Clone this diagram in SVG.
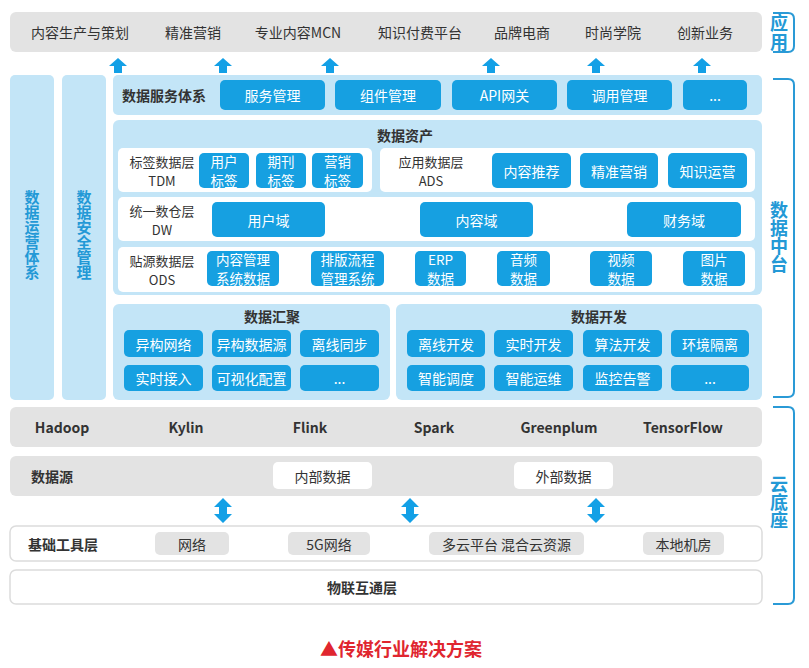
<svg xmlns="http://www.w3.org/2000/svg" width="809" height="668" viewBox="0 0 809 668">
<defs>
<style>
.gray{fill:#e3e3e3}
.lb{fill:#c3e5f7}
.btn{fill:#16a0e1}
.wr{fill:#ffffff}
.wb{fill:#ffffff;stroke:#dcdcdc;stroke-width:1.5}
.t{font-family:"Noto Sans CJK SC","Noto Sans",sans-serif;font-size:14px;text-anchor:middle;dominant-baseline:central}
.w{fill:#ffffff}
.d{fill:#333333}
.b{font-weight:bold}
.s13{font-size:13px}
.s135{font-size:13.5px}
.blue{fill:#2399d6;font-weight:bold}
.vert{writing-mode:vertical-rl;text-orientation:upright}
.arr{fill:#13a0e6}
.brk{fill:none;stroke:#2a9ad6;stroke-width:2}
</style>
</defs>

<!-- Application layer -->
<g id="app">
<rect class="gray" x="10" y="12" width="752" height="40" rx="6"/>
<text class="t d" x="80" y="32">内容生产与策划</text>
<text class="t d" x="193" y="32">精准营销</text>
<text class="t d" x="298" y="32">专业内容MCN</text>
<text class="t d" x="420" y="32">知识付费平台</text>
<text class="t d" x="522" y="32">品牌电商</text>
<text class="t d" x="613" y="32">时尚学院</text>
<text class="t d" x="705" y="32">创新业务</text>
</g>

<g id="connectors">
<g class="arr">
<path d="M118,58 L127,66 L122,66 L122,73 L114,73 L114,66 L109,66 Z"/>
<path d="M223,58 L232,66 L227,66 L227,73 L219,73 L219,66 L214,66 Z"/>
<path d="M330,58 L339,66 L334,66 L334,73 L326,73 L326,66 L321,66 Z"/>
<path d="M491,58 L500,66 L495,66 L495,73 L487,73 L487,66 L482,66 Z"/>
<path d="M596,58 L605,66 L600,66 L600,73 L592,73 L592,66 L587,66 Z"/>
<path d="M702,58 L711,66 L706,66 L706,73 L698,73 L698,66 L693,66 Z"/>
<path d="M223,498 L232,507 L227,507 L227,514 L232,514 L223,523 L214,514 L219,514 L219,507 L214,507 Z"/>
<path d="M410,498 L419,507 L414,507 L414,514 L419,514 L410,523 L401,514 L406,514 L406,507 L401,507 Z"/>
<path d="M596,498 L605,507 L600,507 L600,514 L605,514 L596,523 L587,514 L592,514 L592,507 L587,507 Z"/>
</g>
</g>

<!-- Left columns -->
<g id="ops">
<rect class="lb" x="10" y="75" width="44" height="325" rx="5"/>
<text class="t blue vert" x="32" y="235" style="font-size:15px">数据运营体系</text>
</g>
<g id="security">
<rect class="lb" x="62" y="75" width="44" height="325" rx="5"/>
<text class="t blue vert" x="84" y="235" style="font-size:15px">数据安全管理</text>
</g>

<!-- Data service -->
<g id="service">
<rect class="lb" x="113" y="75" width="649" height="40" rx="5"/>
<text class="t d b" x="164" y="95">数据服务体系</text>
<rect class="btn" x="220" y="80" width="105" height="30" rx="5"/>
<text class="t w" x="272.5" y="95">服务管理</text>
<rect class="btn" x="335" y="80" width="106" height="30" rx="5"/>
<text class="t w" x="388" y="95">组件管理</text>
<rect class="btn" x="452" y="80" width="105" height="30" rx="5"/>
<text class="t w" x="504.5" y="95">API网关</text>
<rect class="btn" x="567" y="80" width="105" height="30" rx="5"/>
<text class="t w" x="619.5" y="95">调用管理</text>
<rect class="btn" x="683" y="80" width="64" height="30" rx="5"/>
<text class="t w" x="715" y="95">...</text>
</g>

<!-- Data assets -->
<g id="assets">
<rect class="lb" x="113" y="120" width="649" height="175" rx="6"/>
<text class="t d b" x="405" y="135">数据资产</text>
</g>
<g id="tdm">
<rect class="wr" x="118" y="148" width="254" height="44" rx="5"/>
<text class="t d s13" x="162" y="161">标签数据层</text>
<text class="t d s13" x="162" y="180">TDM</text>
<rect class="btn" x="199" y="153" width="50" height="35" rx="5"/>
<text class="t w s135"><tspan x="224" y="160.7">用户</tspan><tspan x="224" y="180.3">标签</tspan></text>
<rect class="btn" x="256" y="153" width="50" height="35" rx="5"/>
<text class="t w s135"><tspan x="281" y="160.7">期刊</tspan><tspan x="281" y="180.3">标签</tspan></text>
<rect class="btn" x="312" y="153" width="51" height="35" rx="5"/>
<text class="t w s135"><tspan x="337.5" y="160.7">营销</tspan><tspan x="337.5" y="180.3">标签</tspan></text>
</g>
<g id="ads">
<rect class="wr" x="380" y="148" width="375" height="44" rx="5"/>
<text class="t d s13" x="431" y="161">应用数据层</text>
<text class="t d s13" x="431" y="180">ADS</text>
<rect class="btn" x="492" y="153" width="79" height="35" rx="5"/>
<text class="t w" x="531.5" y="170.5">内容推荐</text>
<rect class="btn" x="580" y="153" width="78" height="35" rx="5"/>
<text class="t w" x="619" y="170.5">精准营销</text>
<rect class="btn" x="668" y="153" width="79" height="35" rx="5"/>
<text class="t w" x="707.5" y="170.5">知识运营</text>
</g>
<g id="dw">
<rect class="wr" x="118" y="197" width="637" height="44" rx="5"/>
<text class="t d s13" x="162" y="210">统一数仓层</text>
<text class="t d s13" x="162" y="229">DW</text>
<rect class="btn" x="212" y="202" width="113" height="35" rx="5"/>
<text class="t w" x="268.5" y="219.5">用户域</text>
<rect class="btn" x="420" y="202" width="113" height="35" rx="5"/>
<text class="t w" x="476.5" y="219.5">内容域</text>
<rect class="btn" x="627" y="202" width="114" height="35" rx="5"/>
<text class="t w" x="684" y="219.5">财务域</text>
</g>
<g id="ods">
<rect class="wr" x="118" y="247" width="637" height="45" rx="5"/>
<text class="t d s13" x="162" y="260">贴源数据层</text>
<text class="t d s13" x="162" y="279">ODS</text>
<rect class="btn" x="207" y="251" width="72" height="35" rx="5"/>
<text class="t w s135"><tspan x="243" y="258.7">内容管理</tspan><tspan x="243" y="278.3">系统数据</tspan></text>
<rect class="btn" x="311" y="251" width="73" height="35" rx="5"/>
<text class="t w s135"><tspan x="347.5" y="258.7">排版流程</tspan><tspan x="347.5" y="278.3">管理系统</tspan></text>
<rect class="btn" x="415" y="251" width="51" height="35" rx="5"/>
<text class="t w s135"><tspan x="440.5" y="258.7">ERP</tspan><tspan x="440.5" y="278.3">数据</tspan></text>
<rect class="btn" x="497" y="251" width="53" height="35" rx="5"/>
<text class="t w s135"><tspan x="523.5" y="258.7">音频</tspan><tspan x="523.5" y="278.3">数据</tspan></text>
<rect class="btn" x="590" y="251" width="62" height="35" rx="5"/>
<text class="t w s135"><tspan x="621" y="258.7">视频</tspan><tspan x="621" y="278.3">数据</tspan></text>
<rect class="btn" x="683" y="251" width="62" height="35" rx="5"/>
<text class="t w s135"><tspan x="714" y="258.7">图片</tspan><tspan x="714" y="278.3">数据</tspan></text>
</g>

<!-- Data aggregation -->
<g id="aggregation">
<rect class="lb" x="113" y="304" width="277" height="96" rx="6"/>
<text class="t d b" x="272" y="316">数据汇聚</text>
<rect class="btn" x="124" y="330" width="79" height="27" rx="5"/>
<text class="t w" x="163.5" y="343.5">异构网络</text>
<rect class="btn" x="212" y="330" width="79" height="27" rx="5"/>
<text class="t w" x="251.5" y="343.5">异构数据源</text>
<rect class="btn" x="300" y="330" width="79" height="27" rx="5"/>
<text class="t w" x="339.5" y="343.5">离线同步</text>
<rect class="btn" x="124" y="365" width="79" height="26" rx="5"/>
<text class="t w" x="163.5" y="378">实时接入</text>
<rect class="btn" x="212" y="365" width="79" height="26" rx="5"/>
<text class="t w" x="251.5" y="378">可视化配置</text>
<rect class="btn" x="300" y="365" width="79" height="26" rx="5"/>
<text class="t w" x="339.5" y="378">...</text>
</g>

<!-- Data development -->
<g id="development">
<rect class="lb" x="396" y="304" width="366" height="96" rx="6"/>
<text class="t d b" x="599" y="316">数据开发</text>
<rect class="btn" x="407" y="330" width="78" height="27" rx="5"/>
<text class="t w" x="446" y="343.5">离线开发</text>
<rect class="btn" x="494" y="330" width="79" height="27" rx="5"/>
<text class="t w" x="533.5" y="343.5">实时开发</text>
<rect class="btn" x="583" y="330" width="79" height="27" rx="5"/>
<text class="t w" x="622.5" y="343.5">算法开发</text>
<rect class="btn" x="671" y="330" width="78" height="27" rx="5"/>
<text class="t w" x="710" y="343.5">环境隔离</text>
<rect class="btn" x="407" y="365" width="78" height="26" rx="5"/>
<text class="t w" x="446" y="378">智能调度</text>
<rect class="btn" x="494" y="365" width="79" height="26" rx="5"/>
<text class="t w" x="533.5" y="378">智能运维</text>
<rect class="btn" x="583" y="365" width="79" height="26" rx="5"/>
<text class="t w" x="622.5" y="378">监控告警</text>
<rect class="btn" x="671" y="365" width="78" height="26" rx="5"/>
<text class="t w" x="710" y="378">...</text>
</g>

<!-- Tech -->
<g id="tech">
<rect class="gray" x="10" y="407" width="752" height="40" rx="6"/>
<text class="t d b" x="62" y="427">Hadoop</text>
<text class="t d b" x="186" y="427">Kylin</text>
<text class="t d b" x="310" y="427">Flink</text>
<text class="t d b" x="434" y="427">Spark</text>
<text class="t d b" x="559" y="427">Greenplum</text>
<text class="t d b" x="683" y="427">TensorFlow</text>
</g>

<!-- Data source -->
<g id="datasource">
<rect class="gray" x="10" y="456" width="752" height="40" rx="6"/>
<text class="t d b" x="52" y="476">数据源</text>
<rect class="wr" x="273" y="462" width="99" height="27" rx="5"/>
<text class="t d" x="322.5" y="475.5">内部数据</text>
<rect class="wr" x="514" y="462" width="99" height="27" rx="5"/>
<text class="t d" x="563.5" y="475.5">外部数据</text>
</g>

<!-- Base tools -->
<g id="basetools">
<rect class="wb" x="10" y="526" width="752" height="35" rx="6"/>
<text class="t d b" x="63" y="543.5">基础工具层</text>
<rect class="gray" x="155" y="532" width="74" height="23" rx="5"/>
<text class="t d" x="192" y="543.5">网络</text>
<rect class="gray" x="288" y="532" width="82" height="23" rx="5"/>
<text class="t d" x="329" y="543.5">5G网络</text>
<rect class="gray" x="429" y="532" width="155" height="23" rx="5"/>
<text class="t d" x="506.5" y="543.5">多云平台 混合云资源</text>
<rect class="gray" x="643" y="532" width="81" height="23" rx="5"/>
<text class="t d" x="683.5" y="543.5">本地机房</text>
</g>

<!-- IoT -->
<g id="iot">
<rect class="wb" x="10" y="570" width="752" height="34" rx="6"/>
<text class="t d b" x="362" y="587">物联互通层</text>
</g>

<!-- Right brackets -->
<g id="label-app">
<path class="brk" d="M773,13 H788 Q794,13 794,19 V46 Q794,52 788,52 H773"/>
<text class="t blue vert" x="779" y="33" style="font-size:18px;letter-spacing:1px">应用</text>
</g>
<g id="label-mid">
<path class="brk" d="M773,79 H788 Q794,79 794,85 V391 Q794,397 788,397 H773"/>
<text class="t blue vert" x="779" y="237" style="font-size:18px;letter-spacing:0px">数据中台</text>
</g>
<g id="label-base">
<path class="brk" d="M773,407 H788 Q794,407 794,413 V598 Q794,604 788,604 H773"/>
<text class="t blue vert" x="779" y="502" style="font-size:18px;letter-spacing:0px">云底座</text>
</g>

<text class="t b" x="401" y="648" style="font-size:18px;fill:#e0262f">▲传媒行业解决方案</text>
</svg>
